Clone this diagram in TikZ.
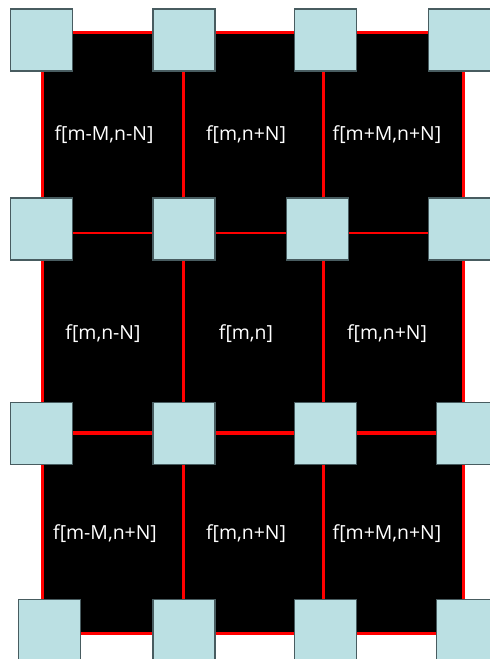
\documentclass[tikz,border=0pt]{standalone}
\usepackage{fontspec}
\setmainfont{Open Sans}
\usetikzlibrary{backgrounds}
\definecolor{tileblue}{RGB}{187, 224, 227}
\definecolor{tileedge}{RGB}{72, 92, 96}
\definecolor{gridred}{RGB}{255, 0, 0}

\begin{document}
\begin{tikzpicture}[
      x=1bp, y=-1bp,
      tile/.style={rectangle, draw=tileedge, fill=tileblue, line width=1.2bp, minimum width=62bp, minimum height=62bp, inner sep=0pt},
      cell/.style={text=white, font=\fontsize{19.5}{22}\selectfont, inner sep=0pt},
      gridline/.style={gridred, line width=3bp},
      frame/.style={draw=gridred, fill=black, line width=3bp}
    ]
      \useasboundingbox (0,0) rectangle (490,659);
      \clip (0,0) rectangle (490,659);

      % grid ends on the frame
      \coordinate (top1) at (183,33);
      \coordinate (bot1) at (183,633);
      \coordinate (top2) at (323,33);
      \coordinate (bot2) at (323,633);
      \coordinate (lft1) at (42,233);
      \coordinate (rgt1) at (463,233);
      \coordinate (lft2) at (42,433);
      \coordinate (rgt2) at (463,433);

      \begin{scope}[on background layer]
        \draw[frame] (42,33) rectangle (463,633);
        \draw[gridline] (top1) -- (bot1);
        \draw[gridline] (top2) -- (bot2);
        \draw[gridline, line width=2.2bp] (lft1) -- (rgt1);
        \draw[gridline, line width=4bp] (lft2) -- (rgt2);
      \end{scope}

      \node[cell] (c11) at (104,135) {f[m-M,n-N]};
      \node[cell] (c12) at (246,135) {f[m,n+N]};
      \node[cell] (c13) at (387,135) {f[m+M,n+N]};

      \node[cell] (c21) at (103,334) {f[m,n-N]};
      \node[cell] (c22) at (246,334) {f[m,n]};
      \node[cell] (c23) at (387,334) {f[m,n+N]};

      \node[cell] (c31) at (105,534) {f[m-M,n+N]};
      \node[cell] (c32) at (246,534) {f[m,n+N]};
      \node[cell] (c33) at (387,534) {f[m+M,n+N]};

      \node[tile] (sq11) at (41.5,40) {};
      \node[tile] (sq12) at (184,40) {};
      \node[tile] (sq13) at (325.5,40) {};
      \node[tile] (sq14) at (459.5,40) {};

      \node[tile] (sq21) at (41.5,229) {};
      \node[tile] (sq22) at (184,229) {};
      \node[tile] (sq23) at (317.5,229) {};
      \node[tile] (sq24) at (459.5,229) {};

      \node[tile] (sq31) at (41.5,433.5) {};
      \node[tile] (sq32) at (184,433.5) {};
      \node[tile] (sq33) at (325.5,433.5) {};
      \node[tile] (sq34) at (467.5,433.5) {};

      \node[tile] (sq41) at (49.5,630.5) {};
      \node[tile] (sq42) at (184,630.5) {};
      \node[tile] (sq43) at (325.5,630.5) {};
      \node[tile] (sq44) at (467.5,630.5) {};
    \end{tikzpicture}
\end{document}
